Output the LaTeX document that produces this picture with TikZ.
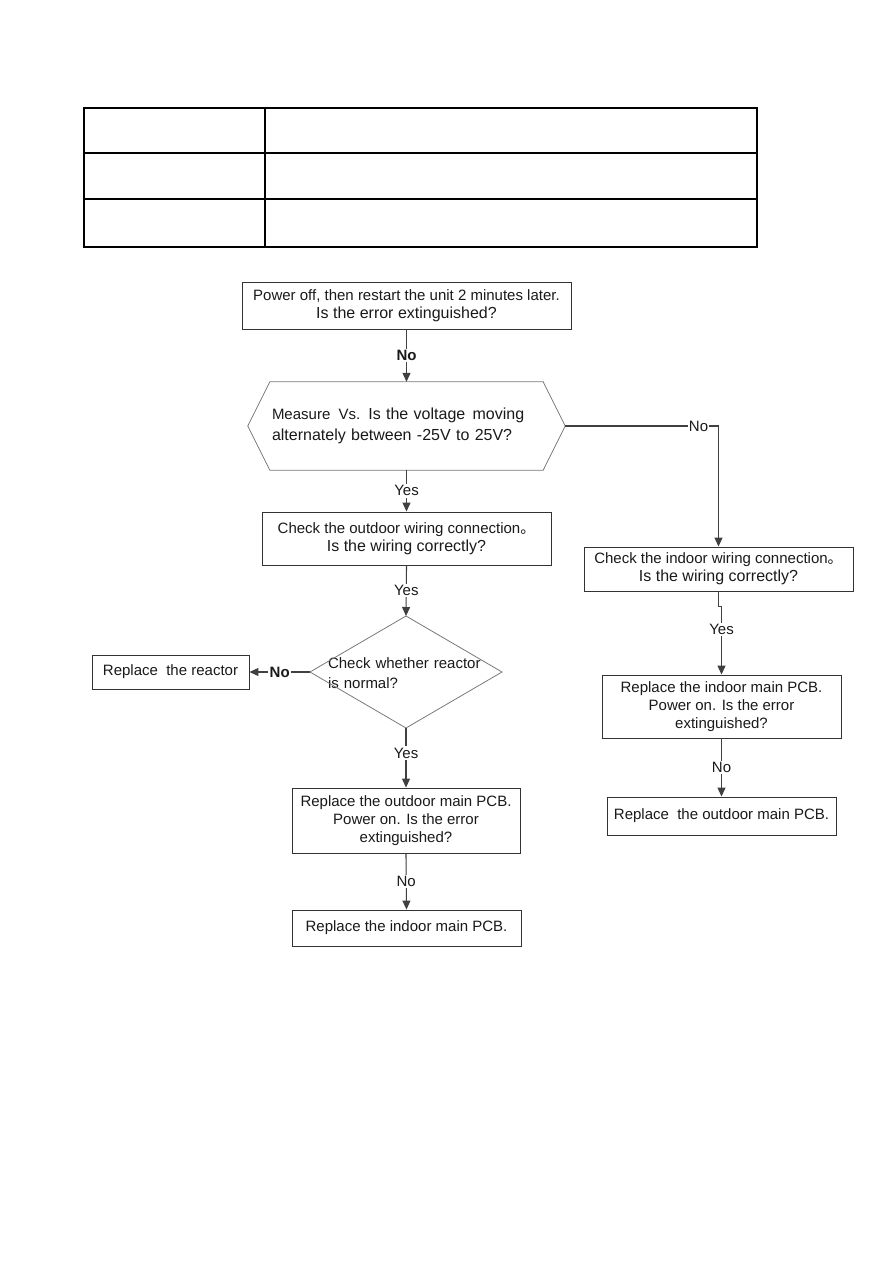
\documentclass[tikz,border=0pt]{standalone}
\usepackage{fontspec}
\setmainfont{Liberation Sans}
\newfontfamily\cjk{Noto Sans CJK SC}
\usetikzlibrary{arrows.meta}
\newcommand\ftA{\fontsize{15}{18}\selectfont}
\newcommand\ftB{\fontsize{16}{18}\selectfont}
\newcommand\ftH{\fontsize{16}{21}\selectfont}
\definecolor{boxc}{HTML}{333333}
\definecolor{linec}{HTML}{404040}
\definecolor{shapec}{HTML}{7A7A7A}
\definecolor{txt}{HTML}{1A1A1A}
\begin{document}
\begin{tikzpicture}[x=1pt,y=-1pt,
  box/.style={draw=boxc, line width=0.9pt, align=center, inner sep=0pt, font=\ftA, text=txt},
  shp/.style={draw=shapec, line width=0.8pt},
  lbl/.style={fill=white, inner sep=1.5pt, font=\ftA, text=txt},
  arr/.style={draw=linec, line width=1.1pt, -{Triangle[length=9pt,width=8pt]}},
  tbl/.style={draw=black, line width=1.8pt}]
\useasboundingbox[fill=white] (0,0) rectangle (893,1263);

% empty table at the top
\draw[tbl] (84,108) rectangle (757,247);
\draw[tbl] (265,108) -- (265,247);
\draw[tbl] (84,153) -- (757,153);
\draw[tbl] (84,199) -- (757,199);

% nodes
\node[box, minimum width=329, minimum height=47] (b1) at (406.5,305.5)
  {Power off, then restart the unit 2 minutes later.\\{\ftB Is the error extinguished?}};

\node[align=left, inner sep=0pt, inner xsep=24pt, text width=269pt, minimum height=88pt, text=txt, font=\ftH] (hex) at (406.5,426)
  {{\ftA Measure\hspace{3pt} Vs.} Is the voltage\hspace{2pt} moving\\alternately between -25V to 25V?};
\draw[shp] (hex.west) -- ([xshift=22pt]hex.north west) -- ([xshift=-22pt]hex.north east)
  -- (hex.east) -- ([xshift=-22pt]hex.south east) -- ([xshift=22pt]hex.south west) -- cycle;

\node[box, minimum width=289, minimum height=53] (b2) at (406.5,538.5)
  {Check the outdoor wiring connection{\cjk 。}\\{\ftB Is the wiring correctly?}};

\node[align=left, inner sep=0pt, inner xsep=18pt, text width=160pt, minimum height=112pt, font=\fontsize{15}{20}\selectfont, text=txt] (dia) at (408,673)
  {Check whether reactor\\is normal?};
\coordinate (dt) at (406,616);
\coordinate (db) at (406,728);
\coordinate (dl) at (310,672);
\coordinate (dr) at (502,672);
\draw[shp] (dt) -- (dr) -- (db) -- (dl) -- cycle;

\node[box, minimum width=157, minimum height=34] (reac) at (170.5,672) {Replace\ \ the reactor};

\node[box, minimum width=228, minimum height=65] (b3) at (406,820.5)
  {Replace the outdoor main PCB.\\Power on. Is the error\\extinguished?};

\node[box, minimum width=229, minimum height=36] (b4) at (406.5,928)
  {Replace the indoor main PCB.};

\node[box, minimum width=269, minimum height=44] (ind) at (718.5,569)
  {Check the indoor wiring connection{\cjk 。}\\{\ftB Is the wiring correctly?}};

\node[box, minimum width=239, minimum height=63] (b5) at (721.5,706.5)
  {Replace the indoor main PCB.\\Power on. Is the error\\extinguished?};

\node[box, minimum width=229, minimum height=38] (b6) at (721.5,816)
  {Replace\ \ the outdoor main PCB.};

% connectors
\draw[arr] (b1.south) -- node[lbl, font=\ftA\bfseries]{No} (b1.south |- hex.north);
\draw[arr] (hex.south -| b1.south) -- node[lbl]{Yes} (b2.north);
\draw[arr] (b2.south) -- node[lbl]{Yes} (dt);
\draw[arr] (dl) -- node[lbl, font=\ftA\bfseries]{No} (reac.east);
\draw[arr] (db) -- node[lbl, pos=0.42]{Yes} (b3.north);
\draw[arr] (b3.south) -- node[lbl]{No} (b4.north);
\draw[arr] (hex.east) -| node[lbl, pos=0.435, inner sep=0.5pt]{No} (ind.north);
\draw[arr] (ind.south) -- ++(0,15) -| node[lbl, pos=0.67]{Yes} (b5.north);
\draw[arr] (b5.south) -- node[lbl]{No} (b6.north);
\end{tikzpicture}
\end{document}
